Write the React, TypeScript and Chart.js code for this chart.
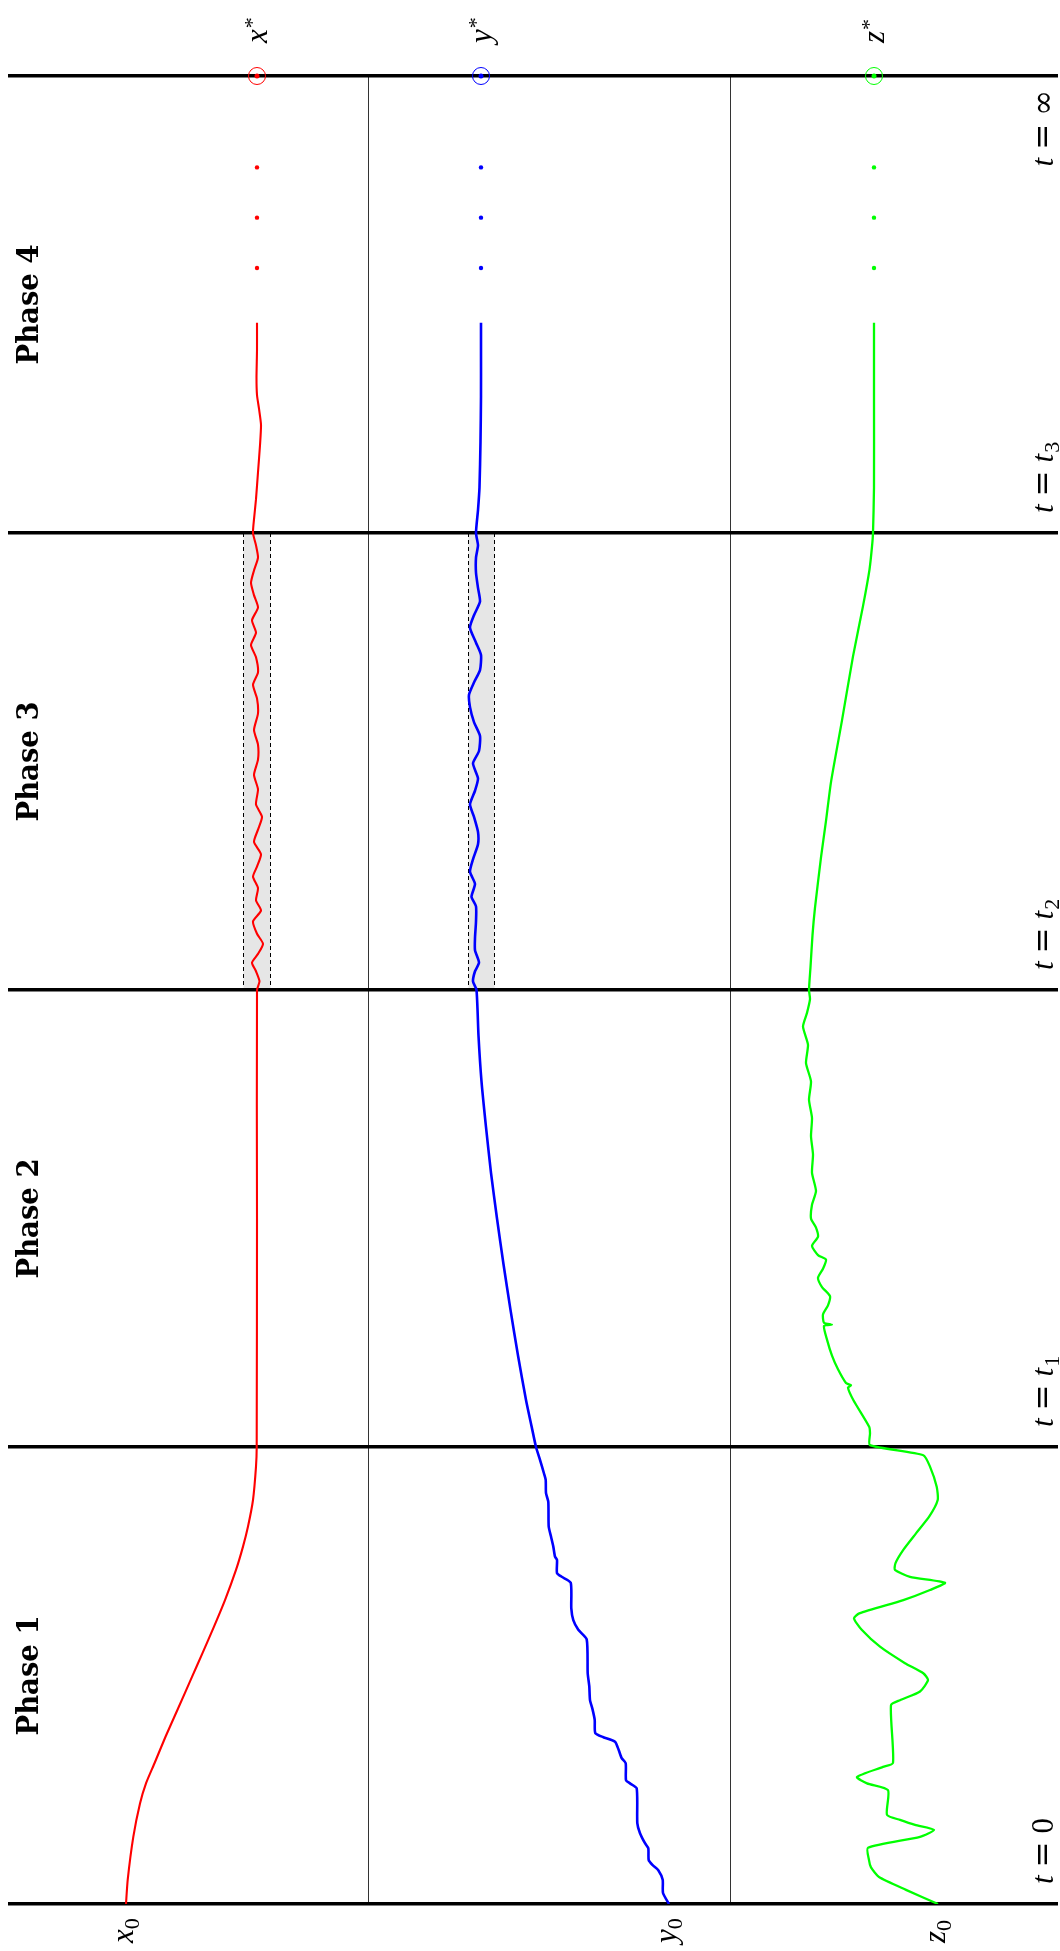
import { useEffect, useRef } from 'react';
import { Chart, registerables } from 'chart.js';

Chart.register(...registerables);

// ---- data ----
const phaseBoundaries = [0, 1, 2, 3, 4];
const boundaryLabels = ['0', '1', '2', '3', 'inf'];
const phaseNames = ['Phase 1', 'Phase 2', 'Phase 3', 'Phase 4'];
const laneDividers = [368.5, 730];
const variableNames = ['x', 'y', 'z'];
const seriesColors = ['#ff0000', '#0000ff', '#00ff00'];
const seriesWidths = [2.1, 2.6, 2.3];
const limitValues = [257, 481, 874];
const limitTime = 4;
const ellipsisTimes = [3.58, 3.69, 3.8];
const bandTimes = [2, 3];
const xBand = [243, 270];
const yBand = [468, 494];

// [time, value]
const xPath: [number, number][] = [
  [0, 126], [0.053, 127.7], [0.147, 133.3], [0.22, 140], [0.264, 146], [0.308, 154.5],
  [0.366, 165.5], [0.425, 177.5], [0.497, 192], [0.549, 202.5], [0.607, 214], [0.665, 225],
  [0.731, 236], [0.782, 243], [0.826, 248], [0.884, 253], [0.957, 256], [1.0, 256.7],
  [1.5, 257], [2.0, 257],
  [2.019, 259.5], [2.041, 256], [2.06, 252], [2.079, 258], [2.101, 263], [2.123, 257], [2.15, 253],
  [2.174, 261], [2.196, 256], [2.223, 258], [2.248, 253], [2.27, 257], [2.297, 261], [2.324, 254],
  [2.351, 258], [2.379, 262], [2.406, 256], [2.439, 258], [2.471, 254], [2.504, 258], [2.537, 258],
  [2.569, 254], [2.605, 258], [2.638, 257], [2.668, 253], [2.695, 258], [2.728, 256], [2.755, 251],
  [2.782, 256], [2.809, 252], [2.837, 258], [2.864, 254], [2.891, 251], [2.918, 254], [2.946, 258],
  [2.973, 256], [3.0, 253],
  [3.03, 254], [3.074, 256], [3.133, 258], [3.192, 260], [3.237, 261], [3.272, 259], [3.302, 257],
  [3.34, 256.5], [3.4, 257], [3.46, 257],
];

const yPath: [number, number][] = [
  [0, 669], [0.024, 663], [0.053, 662.7], [0.074, 658.3], [0.085, 652.7], [0.096, 648.7],
  [0.122, 648.3], [0.133, 645], [0.155, 640], [0.177, 637.3], [0.253, 636.7], [0.264, 630],
  [0.271, 626], [0.308, 625.7], [0.319, 621.7], [0.337, 618.7], [0.355, 615], [0.365, 603.3],
  [0.374, 595.3], [0.403, 594.7], [0.428, 592.3], [0.446, 590], [0.476, 589.3], [0.505, 587.7],
  [0.579, 586.7], [0.6, 578.3], [0.621, 573.3], [0.647, 571.3], [0.703, 570.7], [0.716, 561.7],
  [0.724, 557], [0.753, 557], [0.76, 555], [0.782, 553.3], [0.804, 551], [0.826, 548.7],
  [0.88, 548.3], [0.899, 546], [0.928, 545.7], [0.942, 544], [0.972, 540], [1.0, 536],
  [1.044, 531.7], [1.103, 526], [1.2, 518], [1.3, 510.5], [1.4, 503.5], [1.5, 497], [1.6, 491],
  [1.7, 486], [1.8, 481.5], [1.9, 478.5], [2.0, 476.5],
  [2.019, 473], [2.041, 475], [2.06, 479], [2.087, 475], [2.114, 475], [2.15, 476], [2.183, 476],
  [2.204, 471.5], [2.232, 475], [2.259, 470], [2.286, 473], [2.319, 478], [2.346, 478], [2.379, 474],
  [2.406, 470], [2.436, 475], [2.463, 478], [2.496, 473], [2.523, 479], [2.556, 480], [2.586, 474],
  [2.619, 470], [2.646, 469], [2.673, 474], [2.7, 480], [2.733, 481], [2.76, 476], [2.793, 470],
  [2.82, 474], [2.85, 480], [2.88, 478], [2.913, 476], [2.946, 476], [2.973, 478], [3.0, 476],
  [3.05, 478], [3.1, 479.5], [3.2, 480.5], [3.3, 481], [3.4, 481], [3.46, 481],
];

const zPath: [number, number][] = [
  [0, 938], [0.031, 906], [0.059, 879], [0.08, 871], [0.096, 869], [0.123, 868], [0.147, 920],
  [0.162, 934], [0.173, 915], [0.184, 900], [0.195, 887], [0.249, 888], [0.264, 867], [0.278, 857],
  [0.3, 883], [0.309, 893], [0.435, 891], [0.446, 900], [0.465, 920], [0.49, 928], [0.505, 923.3],
  [0.527, 905], [0.563, 880], [0.6, 861.7], [0.625, 854], [0.636, 859.3], [0.665, 903.3],
  [0.687, 930], [0.703, 945], [0.716, 910], [0.731, 895], [0.746, 895.5], [0.775, 903.3],
  [0.811, 916], [0.848, 929.3], [0.884, 937.7], [0.913, 936.7], [0.957, 930], [0.982, 923.3],
  [1.004, 870], [1.03, 870], [1.044, 869.3], [1.103, 853.3],
  [1.13, 848], [1.135, 851], [1.14, 846], [1.17, 838], [1.2, 832], [1.235, 827], [1.265, 824],
  [1.268, 832], [1.272, 824], [1.29, 823], [1.31, 828], [1.33, 830], [1.35, 822], [1.37, 818],
  [1.39, 823], [1.41, 826], [1.42, 818], [1.44, 812], [1.46, 818], [1.48, 816], [1.5, 811],
  [1.53, 812], [1.56, 816], [1.6, 812], [1.64, 813], [1.68, 811], [1.72, 812], [1.76, 809],
  [1.8, 811], [1.84, 806], [1.88, 808], [1.92, 803], [1.95, 807], [1.98, 810], [2.0, 809],
  [2.05, 810.5], [2.12, 812.5], [2.18, 815], [2.29, 821], [2.37, 826], [2.455, 831], [2.59, 842],
  [2.73, 853], [2.84, 863], [2.92, 869.5], [2.97, 872], [3.0, 873],
  [3.1, 874], [3.3, 874], [3.46, 874],
];

const paths = [xPath, yPath, zPath];

// ---- text helpers ----
const ITAL = 'italic 31px "Liberation Serif"';
const ROMAN = '31px "Liberation Serif"';
const OPER = '31px "DejaVu Serif"';
const SMALL = '22px "Liberation Serif"';

type Run = { text: string; font: string; dy?: number; gap?: number };

function drawRotated(
  ctx: CanvasRenderingContext2D,
  runs: Run[],
  baseX: number,
  anchorY: number,
  align: 'start' | 'end' | 'center',
  targetWidth?: number,
) {
  ctx.save();
  ctx.translate(baseX, anchorY);
  ctx.rotate(-Math.PI / 2);
  let total = 0;
  for (const r of runs) {
    ctx.font = r.font;
    total += (r.gap || 0) + ctx.measureText(r.text).width;
  }
  if (targetWidth) ctx.scale(targetWidth / total, 1);
  let pos = align === 'end' ? -total : align === 'center' ? -total / 2 : 0;
  ctx.textBaseline = 'alphabetic';
  ctx.textAlign = 'left';
  ctx.fillStyle = '#000';
  for (const r of runs) {
    ctx.font = r.font;
    pos += r.gap || 0;
    ctx.fillText(r.text, pos, r.dy || 0);
    pos += ctx.measureText(r.text).width;
  }
  ctx.restore();
}

const schematicPlugin = {
  id: 'schematic',
  beforeDatasetsDraw(chart: any) {
    const { ctx } = chart;
    const xs = chart.scales.x;
    const ys = chart.scales.y;
    const top = ys.getPixelForValue(bandTimes[1]);
    const bottom = ys.getPixelForValue(bandTimes[0]);
    for (const band of [xBand, yBand]) {
      const l = Math.round(xs.getPixelForValue(band[0])) + 0.5;
      const r = Math.round(xs.getPixelForValue(band[1])) + 0.5;
      ctx.save();
      ctx.fillStyle = '#e6e6e6';
      ctx.fillRect(l, top + 2, r - l, bottom - top - 4);
      ctx.strokeStyle = '#000';
      ctx.lineWidth = 1;
      ctx.setLineDash([4, 3]);
      for (const px of [l, r]) {
        ctx.beginPath();
        ctx.moveTo(px, top);
        ctx.lineTo(px, bottom);
        ctx.stroke();
      }
      ctx.restore();
    }
  },
  afterDraw(chart: any) {
    const { ctx, chartArea } = chart;
    const xs = chart.scales.x;
    const ys = chart.scales.y;
    // phase names
    phaseNames.forEach((name, i) => {
      const yc = (ys.getPixelForValue(phaseBoundaries[i]) + ys.getPixelForValue(phaseBoundaries[i + 1])) / 2;
      drawRotated(ctx, [{ text: name, font: 'bold 29px "DejaVu Serif"' }], 38, yc, 'center', 120);
    });
    // boundary labels t = ...
    boundaryLabels.forEach((lab, i) => {
      const py = ys.getPixelForValue(phaseBoundaries[i]);
      const runs: Run[] = [
        { text: 't', font: ITAL },
        { text: '=', font: OPER, gap: 8 },
      ];
      if (lab === '0') runs.push({ text: '0', font: ROMAN, gap: 8 });
      else if (lab === 'inf') runs.push({ text: '\u221E', font: OPER, gap: 8 });
      else {
        runs.push({ text: 't', font: ITAL, gap: 8 });
        runs.push({ text: lab, font: SMALL, dy: 6, gap: 1 });
      }
      const baseX = chartArea.right - 5;
      if (lab === 'inf') drawRotated(ctx, runs, baseX, py + 14, 'end');
      else drawRotated(ctx, runs, baseX, py - 20, 'start');
    });
    // limit labels (top) and start labels (bottom)
    variableNames.forEach((v, i) => {
      const limitPx = xs.getPixelForValue(limitValues[i]);
      drawRotated(
        ctx,
        [
          { text: v, font: ITAL },
          { text: '*', font: SMALL, dy: -8, gap: 1 },
        ],
        limitPx + 10,
        chartArea.top - 33,
        'start',
      );
      const startPx = xs.getPixelForValue(paths[i][0][1]);
      drawRotated(
        ctx,
        [
          { text: v, font: ITAL },
          { text: '0', font: SMALL, dy: 6, gap: 0 },
        ],
        startPx + 7,
        chartArea.bottom + 39,
        'start',
      );
    });
  },
};

export default function App() {
  const ref = useRef<HTMLCanvasElement | null>(null);

  useEffect(() => {
    const canvas = ref.current;
    if (!canvas) return;

    const trajectorySets = paths.map((p, i) => ({
      label: variableNames[i] + '(t)',
      data: p.map(([t, v]) => ({ x: v, y: t })),
      borderColor: seriesColors[i],
      borderWidth: seriesWidths[i],
      pointRadius: 0,
      tension: 0.2,
      fill: false,
      order: 10,
    }));

    const ellipsisSets = limitValues.map((v, i) => ({
      label: variableNames[i] + ' ellipsis',
      data: ellipsisTimes.map((t) => ({ x: v, y: t })),
      showLine: false,
      pointRadius: 2.2,
      pointBorderWidth: 0,
      pointBackgroundColor: seriesColors[i],
      pointBorderColor: seriesColors[i],
      order: 5,
    }));

    const limitRings = {
      label: 'limits',
      data: limitValues.map((v) => ({ x: v, y: limitTime })),
      showLine: false,
      pointRadius: 8.5,
      pointBorderWidth: 1,
      pointBorderColor: seriesColors,
      pointBackgroundColor: 'rgba(0,0,0,0)',
      clip: false,
      order: 1,
    };
    const limitCenters = {
      label: 'limit centers',
      data: limitValues.map((v) => ({ x: v, y: limitTime })),
      showLine: false,
      pointRadius: 2.5,
      pointBorderWidth: 0,
      pointBackgroundColor: seriesColors,
      pointBorderColor: seriesColors,
      clip: false,
      order: 0,
    };

    const chart = new Chart(canvas, {
      type: 'line',
      data: { datasets: [limitCenters, limitRings, ...ellipsisSets, ...trajectorySets] as any },
      plugins: [schematicPlugin],
      options: {
        indexAxis: 'y',
        animation: false,
        responsive: false,
        devicePixelRatio: 1,
        layout: { autoPadding: false, padding: { left: 8, right: 2, top: 76, bottom: 47 } },
        plugins: { legend: { display: false }, tooltip: { enabled: false } },
        events: [],
        scales: {
          x: {
            type: 'linear',
            min: 8,
            max: 1058,
            afterBuildTicks: (axis: any) => {
              axis.ticks = laneDividers.map((value) => ({ value }));
            },
            ticks: { display: false },
            grid: { color: '#333333', lineWidth: 1, drawTicks: false },
            border: { display: false },
          },
          y: {
            type: 'linear',
            min: 0,
            max: 4,
            afterBuildTicks: (axis: any) => {
              axis.ticks = phaseBoundaries.map((value) => ({ value }));
            },
            ticks: { display: false },
            grid: { color: '#000000', lineWidth: 3.5, drawTicks: false },
            border: { display: false },
          },
        },
      } as any,
    });

    return () => chart.destroy();
  }, []);

  return (
    <div style={{ position: 'absolute', left: 0, top: 0, width: 1060, height: 1951, background: '#ffffff' }}>
      <canvas ref={ref} width={1060} height={1951} style={{ display: 'block', width: 1060, height: 1951 }} />
    </div>
  );
}
